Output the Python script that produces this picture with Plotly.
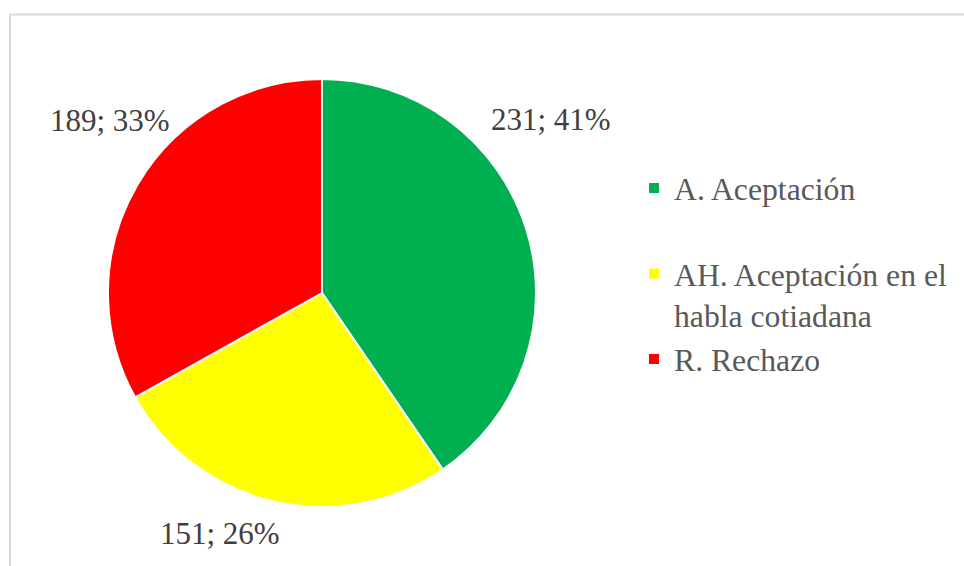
import plotly.graph_objects as go

# Survey responses per category
legend_names = ["A. Aceptación<br> ", "AH. Aceptación en el<br>habla cotiadana", "R. Rechazo"]
counts = [231, 151, 189]
percent_labels = [41, 26, 33]
colors = ["#00B050", "#FFFF00", "#FF0000"]

W, H = 964, 566
SERIF = "Times New Roman, Liberation Serif, DejaVu Serif, serif"

fig = go.Figure(
    go.Pie(
        labels=legend_names,
        values=counts,
        sort=False,
        direction="clockwise",
        rotation=0,
        marker=dict(colors=colors, line=dict(color="white", width=2)),
        textinfo="none",
        hoverinfo="label+value+percent",
        domain=dict(x=[108 / W, 536 / W], y=[1 - 507 / H, 1 - 79 / H]),
    )
)

# Outside data labels "count; percent%" (slice index, label anchor in px)
label_anchor = [(0, 551, 120), (2, 110, 121), (1, 220, 533)]
for i, px, py in label_anchor:
    fig.add_annotation(
        x=px / W, y=1 - py / H, xref="paper", yref="paper",
        text=f"{counts[i]}; {percent_labels[i]}%",
        showarrow=False, xanchor="center", yanchor="middle",
        font=dict(family=SERIF, size=31, color="#404040"),
    )

# Chart-area frame
fig.add_shape(
    type="rect", xref="paper", yref="paper",
    x0=10 / W, x1=1.05, y0=-0.05, y1=1 - 14.5 / H,
    line=dict(color="#D9D9D9", width=2), fillcolor="rgba(0,0,0,0)", layer="below",
)

fig.update_layout(
    width=W, height=H,
    margin=dict(l=0, r=0, t=0, b=0),
    paper_bgcolor="white", plot_bgcolor="white",
    showlegend=True,
    legend=dict(
        x=634 / W, y=1 - 161 / H, xanchor="left", yanchor="top",
        font=dict(family=SERIF, size=31.7, color="#595959"),
        valign="top", bgcolor="rgba(0,0,0,0)", tracegroupgap=0,
    ),
)

fig.write_html("out.html")
